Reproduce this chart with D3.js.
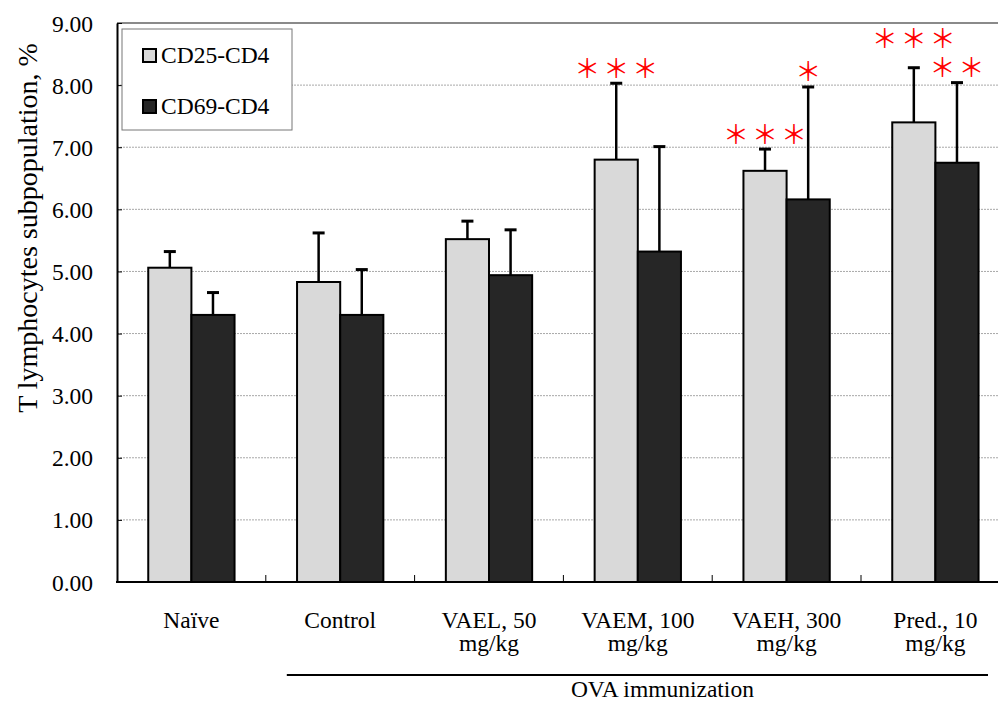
<!DOCTYPE html>
<html>
<head>
<meta charset="utf-8">
<script src="https://cdn.jsdelivr.net/npm/d3@7/dist/d3.min.js"></script>
<style>
  html, body { margin: 0; padding: 0; background: #fff; }
  svg { display: block; }
  text { font-family: "Liberation Serif", "Times New Roman", serif; fill: #000; }
</style>
</head>
<body>
<svg id="chart" width="998" height="707" font-family="'Liberation Serif', 'Times New Roman', serif"></svg>
<script>
// Groups (line breaks split the tick labels)
const categories = ["Naïve", "Control", "VAEL, 50\nmg/kg", "VAEM, 100\nmg/kg", "VAEH, 300\nmg/kg", "Pred., 10\nmg/kg"];
const seriesNames = ["CD25-CD4", "CD69-CD4"];

// Means and SD, %
const cd25Mean = [5.06, 4.83, 5.52, 6.80, 6.62, 7.40];
const cd25Err  = [0.26, 0.79, 0.29, 1.23, 0.35, 0.88];
const cd69Mean = [4.30, 4.30, 4.94, 5.32, 6.16, 6.75];
const cd69Err  = [0.36, 0.73, 0.73, 1.69, 1.81, 1.29];

// Significance markers vs. control
const cd25Sig = ["", "", "", "***", "***", "***"];
const cd69Sig = ["", "", "", "", "*", "**"];

const yTicks = [0, 1, 2, 3, 4, 5, 6, 7, 8, 9];
const yTitle = "T lymphocytes subpopulation, %";
const groupTitle = "OVA immunization";

const fills = ["#d9d9d9", "#262626"];

(function draw() {
  const svg = d3.select("#chart");
  const W = 998;
  const plotLeft = 117, plotTop = 23, plotBottom = 582;
  const step = 148.8;

  const x0 = d3.scaleBand()
    .domain(categories)
    .range([plotLeft, plotLeft + step * categories.length])
    .paddingInner(0).paddingOuter(0);

  const x1 = d3.scaleBand()
    .domain(seriesNames)
    .range([x0.bandwidth() * 0.21, x0.bandwidth() * 0.79])
    .padding(0);

  const y = d3.scaleLinear().domain([0, 9]).range([plotBottom, plotTop]);

  const rows = categories.map((c, i) => ({
    cat: c,
    vals: [
      { s: seriesNames[0], m: cd25Mean[i], e: cd25Err[i], sig: cd25Sig[i] },
      { s: seriesNames[1], m: cd69Mean[i], e: cd69Err[i], sig: cd69Sig[i] }
    ]
  }));

  // Gridlines
  svg.append("g")
    .selectAll("line")
    .data(yTicks.filter(t => t > 0 && t < 9))
    .join("line")
    .attr("x1", plotLeft).attr("x2", W)
    .attr("y1", d => y(d)).attr("y2", d => y(d))
    .attr("stroke", "#a8a8a8")
    .attr("stroke-width", 1)
    .attr("stroke-dasharray", "2,1");

  // Top frame line
  svg.append("line")
    .attr("x1", plotLeft).attr("x2", W)
    .attr("y1", y(9)).attr("y2", y(9))
    .attr("stroke", "#8a8a8a").attr("stroke-width", 2);

  // Bars
  const groups = svg.append("g")
    .selectAll("g")
    .data(rows)
    .join("g")
    .attr("transform", d => `translate(${x0(d.cat)},0)`);

  groups.selectAll("rect")
    .data(d => d.vals)
    .join("rect")
    .attr("x", d => x1(d.s))
    .attr("y", d => y(d.m))
    .attr("width", x1.bandwidth())
    .attr("height", d => y(0) - y(d.m))
    .attr("fill", (d, i) => fills[i])
    .attr("stroke", "#000")
    .attr("stroke-width", 2);

  // Error bars
  const capHalf = 6;
  groups.selectAll("g.err")
    .data(d => d.vals)
    .join("g")
    .attr("class", "err")
    .each(function(d) {
      const g = d3.select(this);
      const cx = x1(d.s) + x1.bandwidth() / 2;
      g.append("line")
        .attr("x1", cx).attr("x2", cx)
        .attr("y1", y(d.m)).attr("y2", y(d.m + d.e))
        .attr("stroke", "#000").attr("stroke-width", 2.5);
      g.append("line")
        .attr("x1", cx - capHalf).attr("x2", cx + capHalf)
        .attr("y1", y(d.m + d.e)).attr("y2", y(d.m + d.e))
        .attr("stroke", "#000").attr("stroke-width", 3);
    });

  // Significance asterisks: above the cap; the first series' row moves up
  // when it would run into the second series' row
  const starGap = 29, starLift = 17, starHalf = 10;
  groups.each(function(d) {
    const g = d3.select(this);
    const pos = d.vals.map(v => {
      const n = v.sig.length;
      const cx = x1(v.s) + x1.bandwidth() / 2;
      return {
        v, n, cx,
        x0: cx - (n - 1) / 2 * starGap - starHalf,
        x1: cx + (n - 1) / 2 * starGap + starHalf,
        cy: y(v.m + v.e) - starLift
      };
    });
    const a = pos[0], b = pos[1];
    if (a.n && b.n && a.x1 > b.x0 && Math.abs(a.cy - b.cy) < starGap) {
      a.cy = Math.min(a.cy, b.cy - starGap);
    }
    pos.forEach(p => {
      for (let k = 0; k < p.n; k++) {
        g.append("text")
          .attr("x", p.cx + (k - (p.n - 1) / 2) * starGap)
          .attr("y", p.cy)
          .attr("text-anchor", "middle")
          .attr("dominant-baseline", "central")
          .style("font-family", "'Noto Sans CJK JP', sans-serif")
          .style("font-size", "26px")
          .style("fill", "#ff0000")
          .text("＊");
      }
    });
  });

  // Y axis
  const yAxis = d3.axisLeft(y)
    .tickValues(yTicks)
    .tickFormat(d3.format(".2f"))
    .tickSizeInner(-5)
    .tickSizeOuter(0)
    .tickPadding(24);
  const ya = svg.append("g").attr("transform", `translate(${plotLeft},0)`).call(yAxis);
  ya.attr("font-family", null).attr("font-size", null);
  ya.select(".domain").attr("stroke", "#000").attr("stroke-width", 2);
  ya.selectAll(".tick line").attr("stroke", "#000").attr("stroke-width", 1);
  ya.selectAll(".tick text")
    .style("font-family", "'Liberation Serif', 'Times New Roman', serif")
    .style("font-size", "23.5px")
    .attr("dy", "0.34em");

  // X axis baseline with inward ticks at group boundaries
  svg.append("line")
    .attr("x1", plotLeft - 1).attr("x2", W)
    .attr("y1", y(0)).attr("y2", y(0))
    .attr("stroke", "#000").attr("stroke-width", 2);
  svg.append("g")
    .selectAll("line")
    .data(categories.slice(1))
    .join("line")
    .attr("x1", d => x0(d)).attr("x2", d => x0(d))
    .attr("y1", y(0)).attr("y2", y(0) - 7)
    .attr("stroke", "#000").attr("stroke-width", 1);

  // Category labels
  svg.append("g")
    .selectAll("text")
    .data(categories)
    .join("text")
    .attr("text-anchor", "middle")
    .attr("transform", d => `translate(${x0(d) + x0.bandwidth() / 2},628)`)
    .style("font-size", "23.5px")
    .each(function(d) {
      const t = d3.select(this);
      d.split("\n").forEach((line, i) => {
        t.append("tspan").attr("x", 0).attr("y", i * 23).text(line);
      });
    });

  // Bracket for immunized groups
  const brX1 = x0(categories[1]) + 21, brX2 = 988;
  svg.append("line")
    .attr("x1", brX1).attr("x2", brX2)
    .attr("y1", 675).attr("y2", 675)
    .attr("stroke", "#000").attr("stroke-width", 2);
  svg.append("text")
    .attr("x", (brX1 + brX2) / 2 + 25)
    .attr("y", 697)
    .attr("text-anchor", "middle")
    .style("font-size", "23.5px")
    .text(groupTitle);

  // Y axis title
  svg.append("text")
    .attr("transform", "translate(37,228) rotate(-90)")
    .attr("text-anchor", "middle")
    .style("font-size", "28px")
    .text(yTitle);

  // Legend
  const lg = svg.append("g");
  lg.append("rect")
    .attr("x", 122).attr("y", 29).attr("width", 170).attr("height", 101)
    .attr("fill", "#fff").attr("stroke", "#777").attr("stroke-width", 1);
  seriesNames.forEach((s, i) => {
    const yy = 49 + i * 51;
    lg.append("rect")
      .attr("x", 143).attr("y", yy).attr("width", 13).attr("height", 13)
      .attr("fill", fills[i]).attr("stroke", "#000").attr("stroke-width", 2);
    lg.append("text")
      .attr("x", 161).attr("y", yy + 14)
      .style("font-size", "23.5px")
      .text(s);
  });
})();
</script>
</body>
</html>
